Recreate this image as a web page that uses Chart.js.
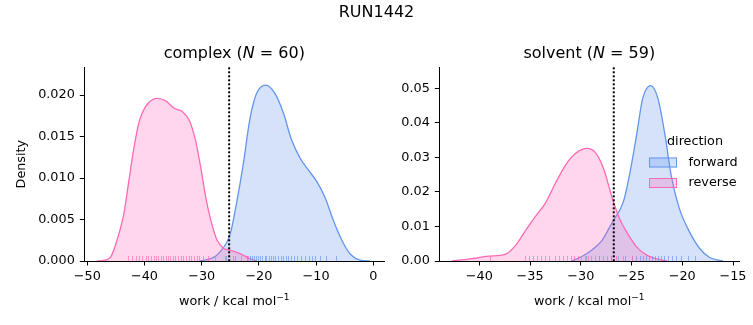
<!DOCTYPE html>
<html>
<head>
<meta charset="utf-8">
<title>RUN1442</title>
<script src="https://cdn.jsdelivr.net/npm/chart.js@4.4.1/dist/chart.umd.min.js"></script>
<style>
  html, body { margin: 0; padding: 0; background: #fff; }
  #wrap { position: relative; width: 753px; height: 325px; overflow: hidden; }
  canvas { position: absolute; top: 0; }
  #complexChart { left: 0; }
  #solventChart { left: 390px; }
</style>
</head>
<body>
<div id="wrap">
  <canvas id="complexChart" width="420" height="325"></canvas>
  <canvas id="solventChart" width="363" height="325"></canvas>
</div>
<script>
// Figure text
const figureTitle = 'RUN1442';
const directions = ['forward', 'reverse'];

// complex phase: KDE of work (kcal/mol) vs density
const complexForwardWork = [-30.3, -28.0, -26.8, -25.0, -23.9, -22.7, -21.6, -20.4, -18.8, -17.2, -15.7, -14.3, -12.8, -11.4, -9.9, -8.4, -7.0, -5.5, -4.1, -2.3, -0.6];
const complexForwardDensity = [0, 0.0004, 0.0011, 0.0033, 0.0070, 0.0118, 0.0170, 0.0202, 0.0212, 0.0202, 0.0178, 0.0146, 0.0124, 0.0110, 0.0096, 0.0076, 0.0049, 0.0025, 0.0009, 0.0001, 0];
const complexReverseWork = [-48.3, -47.0, -45.9, -44.8, -43.6, -42.7, -41.8, -41.0, -39.8, -37.8, -36.3, -34.8, -33.4, -32.2, -31.1, -30.2, -29.3, -28.4, -27.3, -26.1, -25.0, -23.3, -21.6, -20.4];
const complexReverseDensity = [0, 0.0001, 0.0005, 0.0025, 0.0057, 0.0098, 0.0138, 0.0166, 0.0186, 0.0196, 0.0193, 0.0184, 0.0180, 0.0170, 0.0146, 0.0114, 0.0077, 0.0049, 0.0025, 0.0015, 0.0013, 0.0009, 0.0003, 0];
const complexForwardRug = [-25.8, -24.2, -22.0, -21.6, -21.2, -20.9, -20.5, -20.1, -19.8, -19.4, -19.0, -18.7, -18.3, -17.9, -17.5, -17.1, -16.6, -16.2, -15.8, -15.3, -14.9, -14.4, -13.9, -13.4, -12.6, -11.9, -11.3, -10.8, -10.2, -9.3, -8.3, -6.6];
const complexReverseRug = [-42.8, -42.1, -41.5, -40.9, -40.4, -39.8, -39.3, -38.9, -38.4, -38.0, -37.6, -37.2, -36.8, -36.3, -35.9, -35.5, -35.0, -34.6, -34.1, -33.7, -33.2, -32.8, -32.3, -31.9, -31.4, -30.9, -30.4, -29.8, -28.9, -27.6, -25.9, -24.6, -23.1, -21.9];
const complexCount = 60;
const complexDivider = -25.2;

// solvent phase
const solventForwardWork = [-30.9, -29.9, -28.9, -27.9, -26.9, -25.8, -25.2, -24.5, -23.9, -23.1, -22.4, -21.7, -21.1, -20.3, -19.3, -18.3, -17.3, -16.0];
const solventForwardDensity = [0, 0.0013, 0.0032, 0.0060, 0.0112, 0.0172, 0.0249, 0.0365, 0.0471, 0.0508, 0.0471, 0.0365, 0.0249, 0.0153, 0.0085, 0.0037, 0.0010, 0];
const solventReverseWork = [-42.7, -40.7, -39.1, -37.4, -36.4, -35.4, -34.5, -33.5, -32.5, -31.5, -30.5, -29.4, -28.5, -27.7, -26.9, -26.2, -25.5, -24.5, -23.5, -22.5, -21.5];
const solventReverseDensity = [0, 0.0007, 0.0014, 0.0020, 0.0046, 0.0090, 0.0128, 0.0167, 0.0225, 0.0278, 0.0312, 0.0326, 0.0312, 0.0263, 0.0182, 0.0124, 0.0085, 0.0041, 0.0017, 0.0006, 0];
const solventForwardRug = [-29.5, -28.2, -27.0, -26.3, -25.6, -25.0, -24.6, -24.2, -23.9, -23.6, -23.3, -23.0, -22.7, -22.4, -22.1, -21.8, -21.4, -21.0, -20.6, -20.1, -19.4, -18.7];
const solventReverseRug = [-38.9, -35.5, -35.1, -34.7, -34.3, -33.9, -33.5, -33.1, -32.5, -32.1, -31.8, -31.4, -31.0, -30.7, -30.3, -30.0, -29.6, -29.3, -29.0, -28.6, -28.2, -27.8, -27.4, -27.0, -26.5, -25.8, -25.0];
const solventCount = 59;
const solventDivider = -26.75;

// tick labels
const complexXTicks = [-50, -40, -30, -20, -10, 0];
const complexYTicks = [0, 0.005, 0.010, 0.015, 0.020];
const solventXTicks = [-40, -35, -30, -25, -20, -15];
const solventYTicks = [0, 0.01, 0.02, 0.03, 0.04, 0.05];

// styling
const BLUE = '#6495ed';
const BLUE_FILL = 'rgba(100,149,237,0.27)';
const BLUE_RUG = 'rgba(100,149,237,0.65)';
const PINK = '#ff69b4';
const PINK_FILL = 'rgba(255,105,180,0.27)';
const PINK_RUG = 'rgba(255,105,180,0.65)';
const FONT = '"DejaVu Sans", "Liberation Sans", sans-serif';
const TICK_SIZE = 12.8;
const TITLE_SIZE = 16;

function toPoints(xs, ys) {
    return xs.map((x, i) => ({ x: x, y: ys[i] }));
}

function minusLabel(v) {
    return v < 0 ? '\u2212' + Math.abs(v) : String(v);
}

// draws text pieces side by side, centred on cx
function drawPieces(ctx, pieces, cx, y) {
    let total = 0;
    pieces.forEach(p => { ctx.font = p.font; p.w = ctx.measureText(p.text).width; total += p.w; });
    let x = cx - total / 2;
    ctx.textAlign = 'left';
    pieces.forEach(p => {
        ctx.font = p.font;
        ctx.fillText(p.text, x, y + (p.dy || 0));
        x += p.w;
    });
}

// overlay plugin: rug, dotted divider, titles, axis labels, legend
function makeOverlay(p) {
    return {
        id: 'overlay_' + p.name,
        afterDatasetsDraw: (chart) => {
            const ctx = chart.ctx;
            const area = chart.chartArea;
            const xs = chart.scales.x;
            ctx.save();
            // rug marks
            const rugs = [[p.rugF, BLUE_RUG], [p.rugR, PINK_RUG]];
            rugs.forEach(([vals, col]) => {
                ctx.strokeStyle = col;
                ctx.lineWidth = 1;
                vals.forEach(v => {
                    const px = Math.round(xs.getPixelForValue(v)) + 0.5;
                    ctx.beginPath();
                    ctx.moveTo(px, area.bottom);
                    ctx.lineTo(px, area.bottom - 5);
                    ctx.stroke();
                });
            });
            // dotted line
            const dx = xs.getPixelForValue(p.divider);
            ctx.strokeStyle = '#000';
            ctx.lineWidth = 2;
            ctx.setLineDash([2, 2]);
            ctx.beginPath();
            ctx.moveTo(dx, area.top);
            ctx.lineTo(dx, area.bottom);
            ctx.stroke();
            ctx.restore();
        },
        afterDraw: (chart) => {
            const ctx = chart.ctx;
            const area = chart.chartArea;
            const cx = (area.left + area.right) / 2;
            ctx.save();
            ctx.fillStyle = '#000';
            ctx.textBaseline = 'middle';

            // figure title
            if (p.suptitle) {
                ctx.font = TITLE_SIZE + 'px ' + FONT;
                ctx.textAlign = 'center';
                ctx.fillText(p.suptitle, p.suptitleX, 13);
            }

            // subplot title with italic N
            const reg = TITLE_SIZE + 'px ' + FONT;
            const ital = 'italic ' + TITLE_SIZE + 'px ' + FONT;
            drawPieces(ctx, [
                { text: p.name + ' (', font: reg },
                { text: 'N', font: ital },
                { text: ' = ' + p.count + ')', font: reg }
            ], cx, 54);

            // x label with superscript
            ctx.textBaseline = 'alphabetic';
            drawPieces(ctx, [
                { text: 'work / kcal mol', font: TICK_SIZE + 'px ' + FONT },
                { text: '\u22121', font: '9px ' + FONT, dy: -5 }
            ], cx, 305);

            // y label
            if (p.ylabel) {
                ctx.save();
                ctx.translate(22, (area.top + area.bottom) / 2);
                ctx.rotate(-Math.PI / 2);
                ctx.font = TICK_SIZE + 'px ' + FONT;
                ctx.textAlign = 'center';
                ctx.textBaseline = 'middle';
                ctx.fillText(p.ylabel, 0, 0);
                ctx.restore();
            }

            // legend
            if (p.legend) {
                const lg = p.legend;
                ctx.font = TICK_SIZE + 'px ' + FONT;
                ctx.textBaseline = 'middle';
                ctx.textAlign = 'center';
                ctx.fillText('direction', lg.x + 46, lg.y);
                const cols = [[BLUE, BLUE_FILL], [PINK, PINK_FILL]];
                directions.forEach((d, i) => {
                    const ry = lg.y + 15.5 + i * 20.5;
                    ctx.fillStyle = cols[i][1];
                    ctx.fillRect(lg.x, ry, 28, 10);
                    ctx.strokeStyle = cols[i][0];
                    ctx.lineWidth = 1;
                    ctx.strokeRect(lg.x + 0.5, ry + 0.5, 27, 9);
                    ctx.fillStyle = '#000';
                    ctx.textAlign = 'left';
                    ctx.fillText(d, lg.x + 39.5, ry + 5);
                });
            }
            ctx.restore();
        }
    };
}

function buildChart(canvasId, p) {
    const canvas = document.getElementById(canvasId);
    const tickFont = { family: FONT, size: TICK_SIZE };
    return new Chart(canvas, {
        type: 'line',
        data: {
            datasets: [
                {
                    label: directions[1],
                    data: toPoints(p.revX, p.revY),
                    borderColor: PINK,
                    backgroundColor: PINK_FILL,
                    fill: 'origin'
                },
                {
                    label: directions[0],
                    data: toPoints(p.fwdX, p.fwdY),
                    borderColor: BLUE,
                    backgroundColor: BLUE_FILL,
                    fill: 'origin'
                }
            ]
        },
        options: {
            responsive: false,
            animation: false,
            layout: { padding: { left: 0, right: p.padRight, top: 67.3, bottom: 0 } },
            plugins: {
                legend: { display: false },
                tooltip: { enabled: false },
                title: { display: false }
            },
            elements: {
                point: { radius: 0, hoverRadius: 0 },
                line: { borderWidth: 1.3, cubicInterpolationMode: 'monotone' }
            },
            scales: {
                x: {
                    type: 'linear',
                    min: p.xMin,
                    max: p.xMax,
                    afterFit: (s) => { s.height = 64; },
                    afterBuildTicks: (s) => { s.ticks = p.xTicks.map(v => ({ value: v })); },
                    ticks: {
                        font: tickFont, color: '#000', padding: 3,
                        maxRotation: 0, autoSkip: false,
                        callback: (v) => minusLabel(v)
                    },
                    grid: { drawOnChartArea: false, tickLength: 4.5, tickColor: '#000', color: '#000' },
                    border: { color: '#000', width: 1 }
                },
                y: {
                    type: 'linear',
                    min: 0,
                    max: p.yMax,
                    afterFit: (s) => { s.width = p.yWidth; },
                    afterBuildTicks: (s) => { s.ticks = p.yTicks.map(v => ({ value: v })); },
                    ticks: {
                        font: tickFont, color: '#000', padding: 5,
                        callback: (v) => v.toFixed(p.yDecimals)
                    },
                    grid: { drawOnChartArea: false, tickLength: 4.5, tickColor: '#000', color: '#000' },
                    border: { color: '#000', width: 1 }
                }
            }
        },
        plugins: [makeOverlay(p)]
    });
}

buildChart('complexChart', {
    name: 'complex', count: complexCount,
    fwdX: complexForwardWork, fwdY: complexForwardDensity,
    revX: complexReverseWork, revY: complexReverseDensity,
    rugF: complexForwardRug, rugR: complexReverseRug,
    divider: complexDivider,
    xTicks: complexXTicks, yTicks: complexYTicks,
    xMin: -50.52, xMax: 1.92, yMax: 0.02334, yDecimals: 3,
    yWidth: 84.3, padRight: 35.7,
    ylabel: 'Density',
    suptitle: figureTitle, suptitleX: 376.5
});

buildChart('solventChart', {
    name: 'solvent', count: solventCount,
    fwdX: solventForwardWork, fwdY: solventForwardDensity,
    revX: solventReverseWork, revY: solventReverseDensity,
    rugF: solventForwardRug, rugR: solventReverseRug,
    divider: solventDivider,
    xTicks: solventXTicks, yTicks: solventYTicks,
    xMin: -43.94, xMax: -14.38, yMax: 0.0561, yDecimals: 2,
    yWidth: 49.3, padRight: 13.7,
    legend: { x: 259, y: 142 }
});
</script>
</body>
</html>
